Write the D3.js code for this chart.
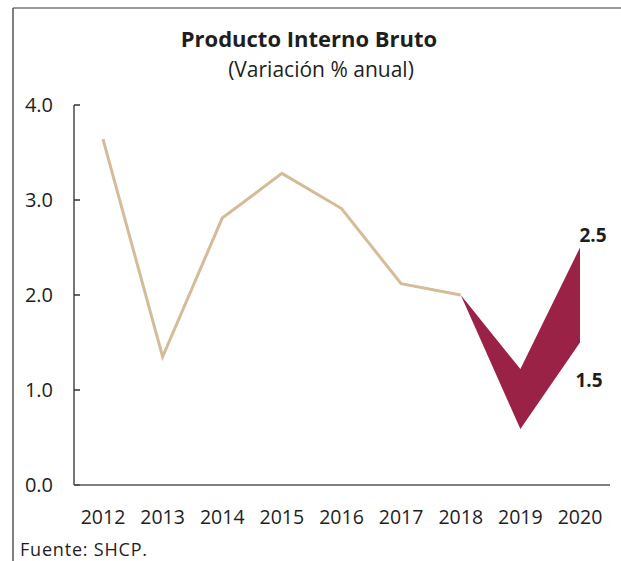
<!DOCTYPE html>
<html>
<head>
  <meta charset="utf-8">
  <title>Producto Interno Bruto</title>
  <style>
    body,html{
      margin:0;
      padding:0;
      background:#fff;
      font-family: "Open Sans", "Lato", sans-serif;
    }
    svg text{ fill:#1e1e1e; }
  </style>
</head>
<body>
  <div id="container"></div>
  <script src="https://d3js.org/d3.v7.min.js"></script>
  <script>
    var years = [2012, 2013, 2014, 2015, 2016, 2017, 2018, 2019, 2020];
    var pibObs = [3.64, 1.35, 2.81, 3.28, 2.91, 2.12, 2.0];
    var fanYears = [2018, 2019, 2020];
    var fanHigh = [2.0, 1.22, 2.5];
    var fanLow = [2.0, 0.59, 1.5];
    var yTicks = [0, 1, 2, 3, 4];

    var width = 621, height = 561;
    var svg = d3.select('#container').append('svg')
      .attr('width', width).attr('height', height);

    // marco
    svg.append('line').attr('x1', 13).attr('x2', width).attr('y1', 8).attr('y2', 8)
      .attr('stroke', '#9a9a9a').attr('stroke-width', 2);
    svg.append('line').attr('x1', 13).attr('x2', 13).attr('y1', 8).attr('y2', height)
      .attr('stroke', '#555').attr('stroke-width', 1.5);

    svg.append('text').attr('x', 309).attr('y', 47).attr('text-anchor', 'middle')
      .style('font-size', '22px').style('font-weight', 'bold').style('letter-spacing', '0px')
      .text('Producto Interno Bruto');
    svg.append('text').attr('x', 321).attr('y', 77).attr('text-anchor', 'middle')
      .style('font-size', '21px')
      .text('(Variación % anual)');

    var x = d3.scalePoint().domain(years).range([103, 580]);
    var y = d3.scaleLinear().domain([0, 4]).range([485, 105]);

    // eje y
    svg.append('line').attr('x1', 74).attr('x2', 74).attr('y1', y(4)).attr('y2', y(0))
      .attr('stroke', '#777').attr('stroke-width', 2);
    svg.append('g').selectAll('line').data(yTicks).enter().append('line')
      .attr('x1', 74).attr('x2', 80)
      .attr('y1', function(d){ return y(d); }).attr('y2', function(d){ return y(d); })
      .attr('stroke', '#333').attr('stroke-width', 1.5);
    svg.append('g').selectAll('text').data(yTicks).enter().append('text')
      .attr('x', 53).attr('y', function(d){ return y(d) + 7; })
      .attr('text-anchor', 'end').style('font-size', '20px')
      .text(function(d){ return d3.format('.1f')(d); });

    // eje x
    svg.append('line').attr('x1', 74).attr('x2', 610).attr('y1', y(0)).attr('y2', y(0))
      .attr('stroke', '#555').attr('stroke-width', 1.5);
    svg.append('g').selectAll('text').data(years).enter().append('text')
      .attr('x', function(d){ return x(d); }).attr('y', 524)
      .attr('text-anchor', 'middle').style('font-size', '19.5px')
      .text(function(d){ return d; });

    // abanico
    var fan = d3.area()
      .x(function(d, i){ return x(fanYears[i]); })
      .y0(function(d, i){ return y(fanLow[i]); })
      .y1(function(d, i){ return y(fanHigh[i]); });
    svg.append('path').datum(fanYears).attr('d', fan).attr('fill', '#9b2247');

    // observado
    var line = d3.line()
      .x(function(d, i){ return x(years[i]); })
      .y(function(d){ return y(d); });
    svg.append('path').datum(pibObs).attr('d', line)
      .attr('fill', 'none').attr('stroke', '#d5bc99').attr('stroke-width', 3);

    svg.append('text').attr('x', x(2020) + 13).attr('y', y(fanHigh[2]) - 6)
      .attr('text-anchor', 'middle').style('font-size', '19px').style('font-weight', 'bold')
      .text(d3.format('.1f')(fanHigh[2]));
    svg.append('text').attr('x', x(2020) + 9).attr('y', y(fanLow[2]) + 44)
      .attr('text-anchor', 'middle').style('font-size', '19px').style('font-weight', 'bold')
      .text(d3.format('.1f')(fanLow[2]));

    svg.append('text').attr('x', 20).attr('y', 556).style('font-size', '18px')
      .style('letter-spacing', '0.8px')
      .text('Fuente: SHCP.');
  </script>
</body>
</html>
